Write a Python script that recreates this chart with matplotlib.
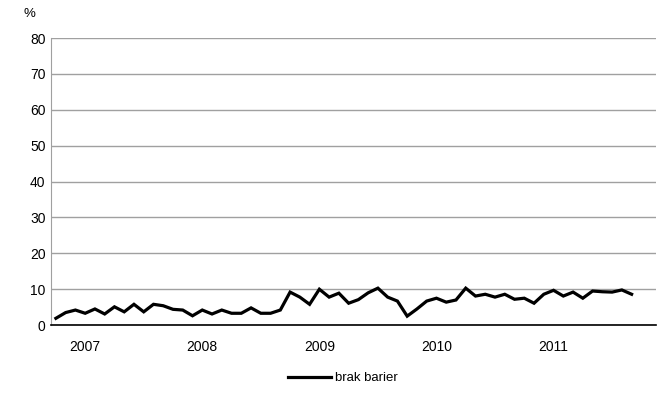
import matplotlib
matplotlib.use("Agg")
import matplotlib.pyplot as plt
from matplotlib.lines import Line2D

plt.rcParams['font.family'] = ['Liberation Sans', 'DejaVu Sans']

# dane miesięczne (od X 2006)
brak_barier = [1.9, 3.5, 4.2, 3.3, 4.5, 3.1, 5.1, 3.7, 5.8, 3.7,
               5.8, 5.4, 4.4, 4.2, 2.6, 4.2, 3.1, 4.2, 3.3, 3.3,
               4.8, 3.3, 3.3, 4.2, 9.2, 7.8, 5.8, 10.0, 7.8, 8.9,
               6.1, 7.1, 9.0, 10.3, 7.8, 6.7, 2.5, 4.5, 6.7, 7.5,
               6.4, 7.0, 10.3, 8.1, 8.6, 7.8, 8.6, 7.2, 7.5, 6.1,
               8.6, 9.7, 8.1, 9.2, 7.5, 9.5, 9.3, 9.2, 9.8, 8.6]
lata = ['2007', '2008', '2009', '2010', '2011']
lata_poz = [3, 15, 27, 39, 51]
y_ticks = [0, 10, 20, 30, 40, 50, 60, 70, 80]

fig = plt.figure(figsize=(6.66, 3.96), dpi=100)
ax = fig.add_axes([0.0766, 0.179, 0.9084, 0.725])

ax.plot(range(len(brak_barier)), brak_barier, color='black', lw=2.3,
        solid_joinstyle='miter')

ax.set_xlim(-0.5, 61.5)
ax.set_ylim(0, 80)
ax.set_yticks(y_ticks)
ax.yaxis.grid(True, color='#a0a0a0', lw=1.0)
ax.set_axisbelow(True)
ax.set_xticks(lata_poz)
ax.set_xticklabels(lata)
ax.tick_params(axis='x', length=0, pad=11, labelsize=10)
ax.tick_params(axis='y', length=0, pad=4, labelsize=10)

for s in ['top', 'right']:
    ax.spines[s].set_visible(False)
ax.spines['left'].set_color('#a0a0a0')
ax.spines['bottom'].set_color('black')
ax.spines['bottom'].set_linewidth(1.2)

fig.text(0.036, 0.95, '%', fontsize=9.5, ha='left', va='bottom')

handle = Line2D([], [], color='black', lw=2.3)
fig.legend([handle], ['brak barier'], loc='center', bbox_to_anchor=(0.515, 0.045),
           frameon=False, fontsize=9.5, handlelength=3.3, handletextpad=0.3)

fig.savefig('out.png', dpi=100)
